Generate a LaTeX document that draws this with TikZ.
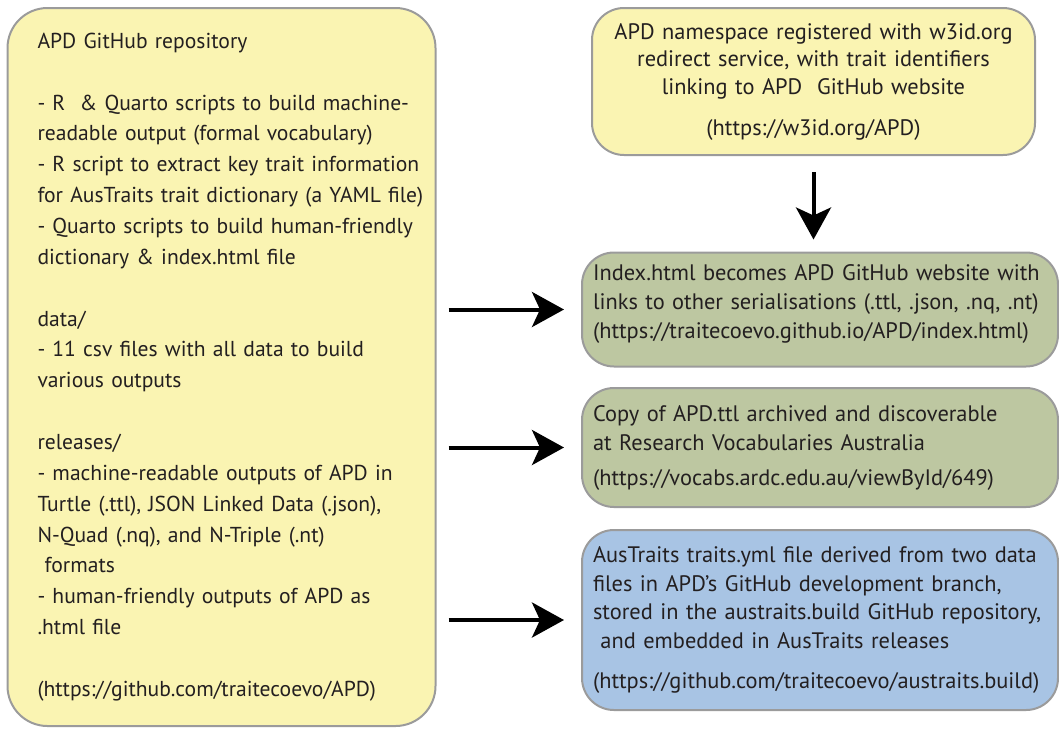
\documentclass[tikz,border=0pt]{standalone}
\usepackage{fontspec}
\setmainfont{PT Sans}
\usetikzlibrary{arrows.meta}

\definecolor{boxyellow}{HTML}{FAF4B2}
\definecolor{boxgreen}{HTML}{BDC7A1}
\definecolor{boxblue}{HTML}{A8C4E4}
\definecolor{boxline}{HTML}{9B9B9B}
\definecolor{ink}{HTML}{231F20}

\begin{document}
\begin{tikzpicture}[
  x=0.5pt, y=-0.5pt,
  every node/.style={text=ink},
  box/.style={draw=boxline, line width=1pt, rounded corners=16pt, inner ysep=0pt},
  repobox/.style={box, fill=boxyellow, rounded corners=20pt, align=left,
    text width=212pt, inner xsep=1pt, minimum height=359pt,
    execute at begin node={\setlength{\leftskip}{14pt}},
    font=\fontsize{10.8}{15.43}\selectfont},
  idbox/.style={box, fill=boxyellow, align=center,
    text width=215pt, inner xsep=3.25pt, minimum height=73.5pt,
    font=\fontsize{11.2}{13.75}\selectfont},
  outbox/.style={box, align=left, text width=236pt, inner xsep=1pt,
    execute at begin node={\setlength{\leftskip}{4.5pt}},
    font=\fontsize{11.2}{14.5}\selectfont},
  % thick arrows with the wide concave head
  arrow/.style={draw, line width=2pt,
    -{Stealth[length=16pt, width=17.5pt, inset=4pt]}}]

  \useasboundingbox (0,0) rectangle (1059,729);

  % boxes
  \node[repobox] (repo) at (221.5,367) {APD GitHub repository\\[15.43pt]
    - R \ \& Quarto scripts to build machine-\\
    readable output (formal vocabulary)\\
    - R script to extract key trait information\\
    for AusTraits trait dictionary (a YAML file)\\
    - Quarto scripts to build human-friendly\\
    dictionary \& index.html file\\[15.43pt]
    data/\\
    - 11 csv files with all data to build\\
    various outputs\\[15.43pt]
    releases/\\
    - machine-readable outputs of APD in\\
    Turtle (.ttl), JSON Linked Data (.json),\\
    N-Quad (.nq), and N-Triple (.nt)\\
    \ formats\\
    - human-friendly outputs of APD as\\
    .html file\\[15.43pt]
    (https://github.com/traitecoevo/APD)};

  \node[idbox] (w3id) at (813.5,81.5) {APD namespace registered with w3id.org\\
    redirect service, with trait identifiers\\
    linking to APD \ GitHub website\\[6.75pt]
    (https://w3id.org/APD)};

  \node[outbox, fill=boxgreen, minimum height=57pt,
    execute at end node={\par\vspace{6pt}}] (web) at (820,309.5)
    {Index.html becomes APD GitHub website with\\
    links to other serialisations (.ttl, .json, .nq, .nt)\\
    (https://traitecoevo.github.io/APD/index.html)};

  \node[outbox, fill=boxgreen, minimum height=59.5pt] (rva) at (820,447.5)
    {Copy of APD.ttl archived and discoverable\\
    at Research Vocabularies Australia\\[3pt]
    (https://vocabs.ardc.edu.au/viewById/649)};

  \node[outbox, fill=boxblue, minimum height=90pt,
    font=\fontsize{11.2}{14.25}\selectfont] (build) at (820,620)
    {AusTraits traits.yml file derived from two data\\
    files in APD’s GitHub development branch,\\
    stored in the austraits.build GitHub repository,\\
    \ and embedded in AusTraits releases\\[6pt]
    (https://github.com/traitecoevo/austraits.build)};

  % arrows
  \draw[arrow, shorten <=8pt, shorten >=6pt] (w3id.south) -- (w3id.south |- web.north);
  \draw[arrow, shorten <=6pt, shorten >=8.5pt] (repo.east |- web.west) -- (web.west);
  \draw[arrow, shorten <=6pt, shorten >=8.5pt] (repo.east |- rva.west) -- (rva.west);
  \draw[arrow, shorten <=6pt, shorten >=8.5pt] (repo.east |- build.west) -- (build.west);
\end{tikzpicture}
\end{document}
